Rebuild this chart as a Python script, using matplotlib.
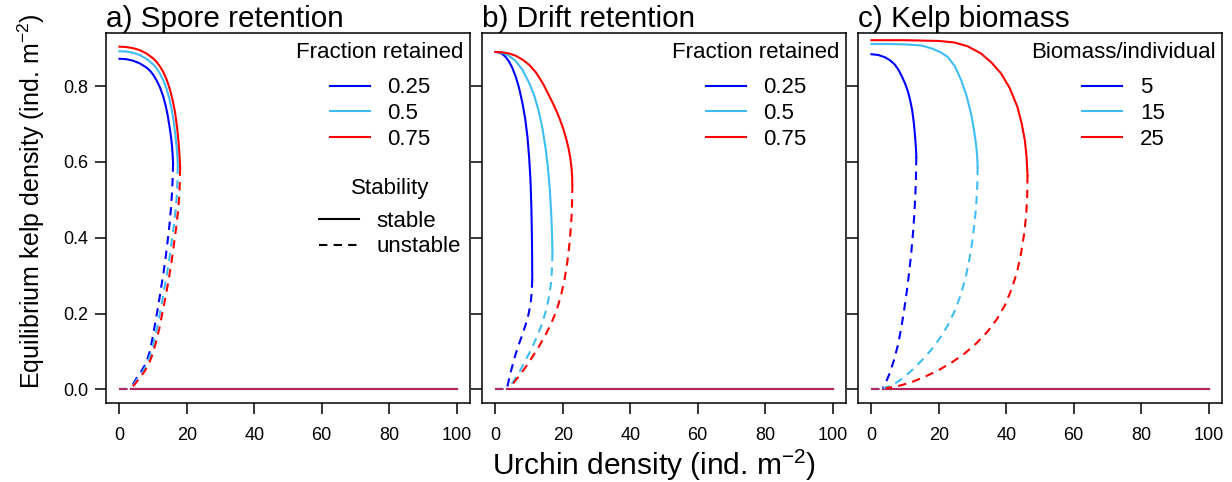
import matplotlib
matplotlib.use('Agg')
import matplotlib.pyplot as plt
from matplotlib.lines import Line2D
from matplotlib.ticker import FormatStrFormatter

plt.rcParams['font.family'] = ['Liberation Sans', 'DejaVu Sans']
plt.rcParams['mathtext.fontset'] = 'custom'
plt.rcParams['mathtext.rm'] = 'Liberation Sans'
plt.rcParams['mathtext.it'] = 'Liberation Sans:italic'

# equilibrium branches, (urchin density, kelp density)
# a) spore retention
spore_025_stable = [(0, 0.872), (2, 0.871), (4, 0.867), (6, 0.860), (8, 0.849), (9, 0.841), (10, 0.830),
                    (11, 0.815), (12, 0.797), (13, 0.772), (13.8, 0.745), (14.4, 0.718), (14.9, 0.69),
                    (15.3, 0.665), (15.6, 0.64), (15.8, 0.615), (15.9, 0.596)]
spore_025_unstable = [(15.9, 0.596), (15.8, 0.56), (15.6, 0.52), (15.3, 0.48), (14.9, 0.44), (14.4, 0.40),
                      (13.8, 0.355), (13.1, 0.31), (12.3, 0.265), (11.5, 0.22), (10.6, 0.175), (9.8, 0.135),
                      (9.0, 0.10), (7.8, 0.068), (6.5, 0.048), (5.2, 0.032), (4.2, 0.016), (3.5, 0.006)]
spore_05_stable = [(0, 0.892), (2, 0.891), (4, 0.888), (6, 0.882), (8, 0.872), (10, 0.857), (11, 0.847),
                   (12, 0.833), (13, 0.815), (14, 0.792), (14.8, 0.767), (15.5, 0.738), (16.1, 0.705),
                   (16.6, 0.67), (16.95, 0.64), (17.2, 0.612), (17.3, 0.59)]
spore_05_unstable = [(17.3, 0.59), (17.2, 0.55), (17.0, 0.51), (16.6, 0.47), (16.1, 0.43), (15.5, 0.39),
                     (14.8, 0.345), (14.0, 0.30), (13.1, 0.255), (12.2, 0.21), (11.2, 0.165), (10.2, 0.125),
                     (9.3, 0.095), (8.1, 0.065), (6.8, 0.045), (5.5, 0.03), (4.4, 0.015), (3.6, 0.006)]
spore_075_stable = [(0, 0.904), (2, 0.903), (4, 0.900), (6, 0.895), (8, 0.886), (10, 0.873), (11, 0.864),
                    (12, 0.852), (13, 0.837), (14, 0.817), (15, 0.79), (15.8, 0.762), (16.5, 0.73),
                    (17.1, 0.69), (17.5, 0.655), (17.8, 0.62), (18.0, 0.585)]
spore_075_unstable = [(18.0, 0.585), (17.9, 0.545), (17.7, 0.505), (17.3, 0.465), (16.8, 0.425), (16.2, 0.385),
                      (15.5, 0.34), (14.7, 0.295), (13.8, 0.25), (12.8, 0.205), (11.8, 0.16), (10.7, 0.12),
                      (9.7, 0.09), (8.5, 0.062), (7.1, 0.043), (5.8, 0.028), (4.6, 0.014), (3.7, 0.006)]

# b) drift retention
drift_025_stable = [(0, 0.890), (1, 0.889), (2, 0.885), (3, 0.877), (4, 0.865), (5, 0.848), (6, 0.825),
                    (7, 0.795), (8, 0.755), (8.8, 0.715), (9.5, 0.665), (10.0, 0.61), (10.4, 0.55),
                    (10.65, 0.48), (10.8, 0.41), (10.88, 0.35), (10.9, 0.29)]
drift_025_unstable = [(10.9, 0.29), (10.75, 0.255), (10.4, 0.225), (9.8, 0.198), (9.0, 0.172), (8.0, 0.145),
                      (6.9, 0.118), (5.8, 0.088), (4.8, 0.055), (4.0, 0.026), (3.5, 0.006)]
drift_05_stable = [(0, 0.890), (2, 0.888), (4, 0.880), (6, 0.866), (8, 0.843), (10, 0.808), (11.5, 0.775),
                   (12.8, 0.735), (13.9, 0.69), (14.8, 0.64), (15.5, 0.59), (16.1, 0.53), (16.5, 0.47),
                   (16.75, 0.42), (16.9, 0.36)]
drift_05_unstable = [(16.9, 0.36), (16.75, 0.315), (16.4, 0.275), (15.8, 0.24), (14.9, 0.205), (13.8, 0.173),
                     (12.5, 0.143), (11.1, 0.115), (9.6, 0.088), (8.1, 0.062), (6.6, 0.038), (5.1, 0.018),
                     (3.7, 0.005)]
drift_075_stable = [(0, 0.890), (2, 0.889), (4, 0.886), (6, 0.880), (8, 0.870), (10, 0.856), (12, 0.836),
                    (14, 0.808), (15.5, 0.782), (17, 0.755), (18.3, 0.73), (19.2, 0.71), (20.2, 0.685),
                    (21.0, 0.66), (21.7, 0.635), (22.2, 0.61), (22.55, 0.585), (22.75, 0.56), (22.8, 0.54)]
drift_075_unstable = [(22.8, 0.54), (22.75, 0.50), (22.6, 0.46), (22.3, 0.42), (21.9, 0.38), (21.3, 0.335),
                      (20.5, 0.29), (19.5, 0.25), (18.2, 0.21), (16.6, 0.175), (14.8, 0.143), (12.9, 0.113),
                      (10.9, 0.085), (8.9, 0.058), (6.9, 0.034), (5.2, 0.015), (4.0, 0.005)]

# c) kelp biomass
biomass_5_stable = [(0, 0.884), (2, 0.882), (4, 0.876), (5.5, 0.868), (6.9, 0.857), (8, 0.843), (9, 0.826),
                    (10, 0.806), (10.8, 0.786), (11.5, 0.762), (12.1, 0.735), (12.6, 0.70), (12.95, 0.665),
                    (13.2, 0.635), (13.3, 0.613)]
biomass_5_unstable = [(13.3, 0.613), (13.2, 0.56), (13.0, 0.51), (12.7, 0.46), (12.3, 0.41), (11.8, 0.36),
                      (11.2, 0.31), (10.5, 0.26), (9.7, 0.21), (8.8, 0.16), (7.8, 0.115), (6.6, 0.075),
                      (5.3, 0.04), (4.2, 0.017), (3.4, 0.004)]
biomass_15_stable = [(0, 0.911), (5, 0.911), (10, 0.910), (14.8, 0.907), (18, 0.899), (20.5, 0.889),
                     (22.6, 0.877), (24.7, 0.853), (26.6, 0.816), (28.2, 0.775), (29.6, 0.725), (30.5, 0.68),
                     (31.1, 0.64), (31.4, 0.61), (31.5, 0.587)]
biomass_15_unstable = [(31.5, 0.587), (31.4, 0.54), (31.1, 0.49), (30.6, 0.44), (29.9, 0.39), (29.0, 0.34),
                       (27.8, 0.29), (26.3, 0.245), (24.6, 0.205), (22.6, 0.168), (20.3, 0.135), (17.8, 0.105),
                       (15.0, 0.077), (12.2, 0.052), (9.4, 0.03), (6.7, 0.014), (4.6, 0.006), (3.6, 0.003)]
biomass_25_stable = [(0, 0.921), (10, 0.921), (20, 0.919), (24.6, 0.915), (28.5, 0.905), (32.5, 0.886),
                     (35.6, 0.862), (38.4, 0.834), (41, 0.795), (43.3, 0.745), (44.6, 0.70), (45.5, 0.657),
                     (46.0, 0.615), (46.3, 0.565)]
biomass_25_unstable = [(46.3, 0.565), (46.2, 0.51), (45.9, 0.46), (45.3, 0.41), (44.4, 0.36), (43.2, 0.31),
                       (41.6, 0.265), (39.6, 0.222), (37.2, 0.185), (34.4, 0.152), (31.2, 0.122), (27.7, 0.095),
                       (24.0, 0.072), (20.0, 0.051), (15.8, 0.033), (11.6, 0.018), (7.6, 0.008), (4.2, 0.003)]

# kelp-free equilibrium: unstable below the threshold, stable above
zero_unstable = [(0, 0.0), (3.4, 0.0)]
zero_stable = [(3.4, 0.0), (100, 0.0)]

colors = ['#0000FF', '#3EBDF5', '#FF0000']
zero_alpha = [1.0, 0.6, 0.65]

panels = [
    ('a) Spore retention', 'Fraction retained', ['0.25', '0.5', '0.75'],
     [(spore_025_stable, spore_025_unstable), (spore_05_stable, spore_05_unstable),
      (spore_075_stable, spore_075_unstable)]),
    ('b) Drift retention', 'Fraction retained', ['0.25', '0.5', '0.75'],
     [(drift_025_stable, drift_025_unstable), (drift_05_stable, drift_05_unstable),
      (drift_075_stable, drift_075_unstable)]),
    ('c) Kelp biomass', 'Biomass/individual', ['5', '15', '25'],
     [(biomass_5_stable, biomass_5_unstable), (biomass_15_stable, biomass_15_unstable),
      (biomass_25_stable, biomass_25_unstable)]),
]

LW = 1.5
DASH = (4, 3)
LEG = dict(frameon=False, fontsize=16, title_fontsize=16, handlelength=1.8, handletextpad=0.8,
           labelspacing=0.21, borderpad=0, borderaxespad=0, loc='upper right')


def xy(points):
    return [p[0] for p in points], [p[1] for p in points]


fig = plt.figure(figsize=(12.32, 4.82), dpi=100)
lefts = [106, 482, 858]
ax_w = 364 / 1232
ax_b = (482 - 403) / 482
ax_h = 370 / 482

for i, (title, leg_title, labels, branches) in enumerate(panels):
    ax = fig.add_axes([lefts[i] / 1232, ax_b, ax_w, ax_h])

    for k, (stable, unstable) in enumerate(branches):
        x, y = xy(zero_unstable)
        ax.plot(x, y, color=colors[k], lw=LW, dashes=DASH, alpha=zero_alpha[k])
        x, y = xy(zero_stable)
        ax.plot(x, y, color=colors[k], lw=LW, alpha=zero_alpha[k])
    for k, (stable, unstable) in enumerate(branches):
        x, y = xy(stable)
        ax.plot(x, y, color=colors[k], lw=LW)
        x, y = xy(unstable)
        ax.plot(x, y, color=colors[k], lw=LW, dashes=DASH)

    ax.set_xlim(-4, 104)
    ax.set_ylim(-0.036, 0.94)
    ax.set_xticks([0, 20, 40, 60, 80, 100])
    ax.set_yticks([0, 0.2, 0.4, 0.6, 0.8])
    ax.yaxis.set_major_formatter(FormatStrFormatter('%.1f'))
    ax.tick_params(direction='out', length=8, width=1.1, labelsize=13)
    ax.tick_params(axis='x', pad=9)
    ax.tick_params(axis='y', pad=5)
    if i > 0:
        ax.tick_params(axis='y', labelleft=False)
    for s in ax.spines.values():
        s.set_linewidth(1.1)
    ax.set_title(title, loc='left', fontsize=21.4, pad=3.6)

    handles = [Line2D([], [], color=c, lw=LW) for c in colors]
    leg = ax.legend(handles, labels, title=leg_title, bbox_to_anchor=(0.983, 0.975), **LEG)
    # wider gap between the legend title and its entries
    leg._legend_box.sep = 10.2
    if i == 0:
        ax.add_artist(leg)
        st_handles = [Line2D([], [], color='black', lw=LW), Line2D([], [], color='black', lw=LW, dashes=DASH)]
        st_leg = ax.legend(st_handles, ['stable', 'unstable'], title='Stability',
                           bbox_to_anchor=(0.975, 0.608), **LEG)
        st_leg._legend_box.sep = 8.4

fig.text(654 / 1232, 1 - 465 / 482, r'Urchin density (ind. m$^{-2}$)', ha='center', va='center', fontsize=21.5)
fig.text(31 / 1232, 1 - 201 / 482, r'Equilibrium kelp density (ind. m$^{-2}$)', ha='center', va='center',
         rotation=90, fontsize=18)

fig.savefig('out.png', dpi=100)
